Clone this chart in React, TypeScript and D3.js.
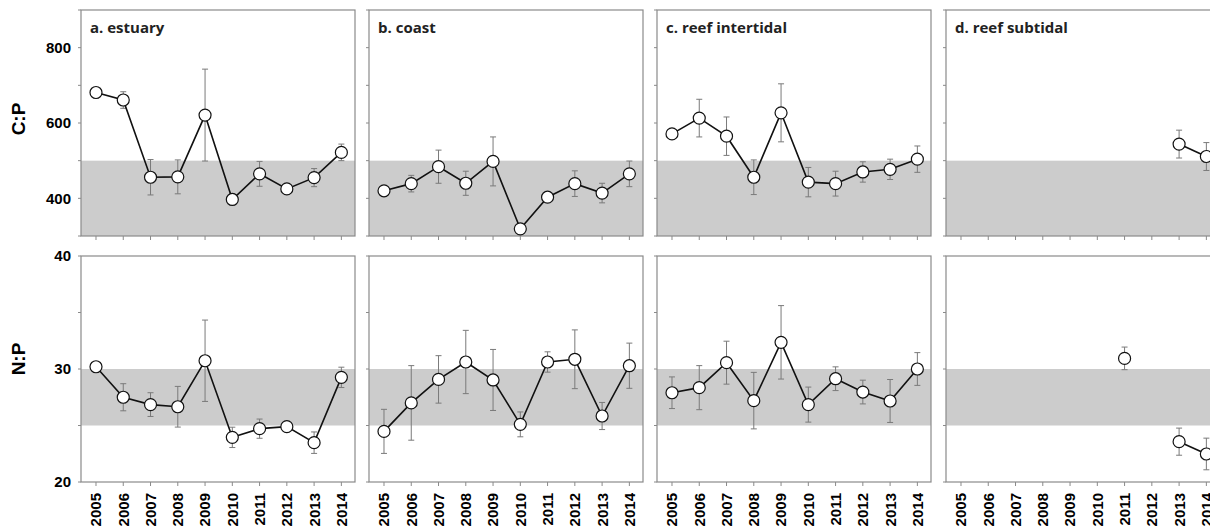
import React from "react";
import * as d3 from "d3";

const years = [2005, 2006, 2007, 2008, 2009, 2010, 2011, 2012, 2013, 2014];
const panelTitles = ["a. estuary", "b. coast", "c. reef intertidal", "d. reef subtidal"];

// C:P means and errors
const cpEstuary = [681, 661, 456, 457, 621, 397, 465, 425, 455, 522];
const cpEstuaryErr = [6, 22, 47, 45, 122, 14, 33, 5, 24, 22];
const cpCoast = [420, 439, 484, 440, 498, 319, 403, 439, 414, 465];
const cpCoastErr = [7, 22, 44, 32, 65, 5, 12, 34, 26, 34];
const cpReefInter = [571, 613, 565, 456, 627, 443, 439, 470, 477, 504];
const cpReefInterErr = [5, 50, 51, 46, 77, 39, 33, 27, 27, 35];
const cpReefSub = [null, null, null, null, null, null, null, null, 544, 511];
const cpReefSubErr = [null, null, null, null, null, null, null, null, 37, 37];

// N:P means and errors
const npEstuary = [30.2, 27.5, 26.85, 26.66, 30.73, 23.95, 24.72, 24.9, 23.48, 29.26];
const npEstuaryErr = [0.15, 1.2, 1.05, 1.8, 3.6, 0.9, 0.85, 0.2, 0.95, 0.9];
const npCoast = [24.48, 27.0, 29.08, 30.62, 29.03, 25.1, 30.62, 30.86, 25.84, 30.29];
const npCoastErr = [1.95, 3.3, 2.1, 2.8, 2.7, 1.1, 0.9, 2.6, 1.2, 2.0];
const npReefInter = [27.9, 28.35, 30.56, 27.2, 32.36, 26.85, 29.14, 27.96, 27.17, 30.0];
const npReefInterErr = [1.4, 1.95, 1.9, 2.5, 3.25, 1.55, 1.05, 1.05, 1.9, 1.45];
const npReefSub = [null, null, null, null, null, null, 30.94, null, 23.57, 22.48];
const npReefSubErr = [null, null, null, null, null, null, 1.0, null, 1.2, 1.4];

const cpTicks = [300, 400, 500, 600, 700, 800, 900];
const cpLabels = [400, 600, 800];
const npTicks = [20, 25, 30, 35, 40];
const npLabels = [20, 30, 40];

const cpBand = [300, 500];
const npBand = [25, 30];

type Row = {
  label: string;
  domain: [number, number];
  ticks: number[];
  labels: number[];
  band: number[];
  series: (number | null)[][];
  errs: (number | null)[][];
};

const rows: Row[] = [
  {
    label: "C:P",
    domain: [300, 900],
    ticks: cpTicks,
    labels: cpLabels,
    band: cpBand,
    series: [cpEstuary, cpCoast, cpReefInter, cpReefSub],
    errs: [cpEstuaryErr, cpCoastErr, cpReefInterErr, cpReefSubErr],
  },
  {
    label: "N:P",
    domain: [20, 40],
    ticks: npTicks,
    labels: npLabels,
    band: npBand,
    series: [npEstuary, npCoast, npReefInter, npReefSub],
    errs: [npEstuaryErr, npCoastErr, npReefInterErr, npReefSubErr],
  },
];

const W = 1210;
const H = 528;
const panelLefts = [81, 369, 657, 946];
const panelW = 274;
const rowTops = [10, 256];
const panelH = 226;
const frameColor = "#8a8a8a";
const errColor = "#7a7a7a";
const numFont = "'Liberation Sans', Arial, sans-serif";
const titleFont = "'Open Sans', 'Noto Sans', sans-serif";

export default function App() {
  const x = d3.scaleLinear().domain([2004.45, 2014.5]).range([0, panelW]);
  return (
    <svg width={W} height={H} style={{ position: "absolute", left: 0, top: 0, background: "#fff" }}>
      {rows.map((row, ri) => {
        const top = rowTops[ri];
        const y = d3.scaleLinear().domain(row.domain).range([panelH, 0]);
        return (
          <g key={ri}>
            <text
              transform={`translate(${25},${top + (ri === 0 ? 109 : 103)}) rotate(-90)`}
              textAnchor="middle"
              fontFamily={numFont}
              fontWeight="bold"
              fontSize={19}
            >
              {row.label}
            </text>
            {panelLefts.map((left, pi) => {
              const vals = row.series[pi];
              const errs = row.errs[pi];
              const pts = years.map((yr, i) => ({ yr, v: vals[i], e: errs[i] }));
              const line = d3
                .line<{ yr: number; v: number | null }>()
                .defined((d) => d.v !== null)
                .x((d) => x(d.yr))
                .y((d) => y(d.v as number));
              return (
                <g key={pi} transform={`translate(${left},${top})`}>
                  <rect
                    x={0}
                    y={y(row.band[1])}
                    width={panelW}
                    height={y(row.band[0]) - y(row.band[1])}
                    fill="#cccccc"
                  />
                  <rect x={0} y={0} width={panelW} height={panelH} fill="none" stroke={frameColor} strokeWidth={1.2} />
                  {row.ticks.map((t) => (
                    <line key={t} x1={-3} x2={0} y1={y(t)} y2={y(t)} stroke={frameColor} strokeWidth={1} />
                  ))}
                  {years.map((yr) => (
                    <line key={yr} x1={x(yr)} x2={x(yr)} y1={panelH} y2={panelH + 4} stroke={frameColor} strokeWidth={1} />
                  ))}
                  {pi === 0 &&
                    row.labels.map((t) => (
                      <text
                        key={t}
                        x={-10}
                        y={y(t)}
                        dy="0.36em"
                        textAnchor="end"
                        fontFamily={numFont}
                        fontWeight="bold"
                        fontSize={15}
                      >
                        {t}
                      </text>
                    ))}
                  {ri === 0 && (
                    <text x={9} y={23} fontFamily={titleFont} fontWeight="bold" fontSize={15} fill="#222">
                      {panelTitles[pi]}
                    </text>
                  )}
                  {ri === 1 &&
                    years.map((yr) => (
                      <text
                        key={yr}
                        transform={`translate(${x(yr)},${panelH + 11}) rotate(-90)`}
                        textAnchor="end"
                        dy="0.36em"
                        fontFamily={numFont}
                        fontWeight="bold"
                        fontSize={15}
                      >
                        {yr}
                      </text>
                    ))}
                  {pts.map((p) =>
                    p.v !== null && p.e !== null ? (
                      <g key={p.yr} stroke={errColor} strokeWidth={1}>
                        <line x1={x(p.yr)} x2={x(p.yr)} y1={y(p.v + p.e)} y2={y(p.v - p.e)} />
                        <line x1={x(p.yr) - 3} x2={x(p.yr) + 3} y1={y(p.v + p.e)} y2={y(p.v + p.e)} />
                        <line x1={x(p.yr) - 3} x2={x(p.yr) + 3} y1={y(p.v - p.e)} y2={y(p.v - p.e)} />
                      </g>
                    ) : null
                  )}
                  <path d={line(pts) || ""} fill="none" stroke="#111" strokeWidth={1.6} />
                  {pts.map((p) =>
                    p.v !== null ? (
                      <circle key={p.yr} cx={x(p.yr)} cy={y(p.v)} r={6} fill="#fff" stroke="#111" strokeWidth={1.2} />
                    ) : null
                  )}
                </g>
              );
            })}
          </g>
        );
      })}
    </svg>
  );
}
